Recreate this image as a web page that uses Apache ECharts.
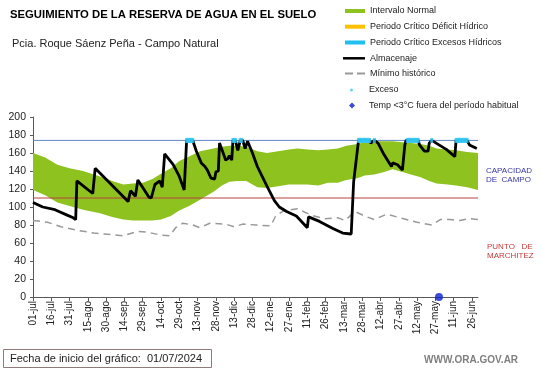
<!DOCTYPE html>
<html><head><meta charset="utf-8">
<script src="https://cdn.jsdelivr.net/npm/echarts@6/dist/echarts.min.js"></script>
<style>html,body{margin:0;padding:0;background:#fff}#c{width:541px;height:368px}</style>
</head><body><div id="c"></div>
<script>
// x = days since 01/07/2024
const tickLabels = ['01-jul','16-jul','31-jul','15-ago','30-ago','14-sep','29-sep','14-oct','29-oct','13-nov','28-nov','13-dic','28-dic','12-ene','27-ene','11-feb','26-feb','13-mar','28-mar','12-abr','27-abr','12-may','27-may','11-jun','26-jun'];

const bandDays = [0,10,20,30,41,55,65,74,82,90,98,105,113,120,128,137,148,155,161,168,175,184,192,201,210,217,225,234,242,250,257,266,272,280,288,295,303,310,318,325,331,340,347,356,365];
const bandHigh = [160,155,147,143,140,134,129,125,126,127,131,137,143,151,156,162,165,167,168,168,167,162,160,162,164,165,164,163,164,165,168,170,172,173,173,173,172,171,170,168,165,164,163,161,160];
const bandLow  = [119,113,105,101,97,93,89,86,85,85,85,86,90,96,101,108,117,124,128,129,129,122,121,123,125,125,125,124,127,127,130,132,135,136,139,142,139,136,133,129,126,125,124,122,119];

const minimoHistorico = [[0,85],[12,83],[23,78],[37,74],[50,71],[67,69],[74,68],[86,73],[94,72],[104,69],[112,68],[117,77],[123,82],[131,80],[137,77],[145,82],[158,81],[165,78],[172,81],[183,80],[195,79],[199,90],[206,96],[217,98],[228,91],[239,87],[250,88],[256,85],[264,95],[272,90],[280,86],[290,92],[304,87],[315,83],[327,80],[334,86],[342,86],[350,85],[358,87],[365,86]];

const almacenaje = [[0,105],[8,100],[18,97],[28,91],[33,88],[35,86],[36,129],[49,115],[51,143],[65,124],[78,106],[80,118],[84,112],[86,130],[95,111],[97,110],[100,125],[104,129],[106,122],[108,159],[115,147],[120,134],[124,119],[125,117],[126,174],[131,174],[134,162],[138,149],[141,145],[143,141],[146,132],[149,131],[150,139],[152,140],[153,171],[157,156],[158,152],[160,154],[161,157],[163,152],[164,174],[166,174],[168,163],[170,174],[172,174],[174,165],[176,173],[180,160],[184,145],[192,123],[198,107],[202,100],[208,95],[216,90],[225,77],[226,89],[235,84],[246,76],[254,71],[261,70],[262,69],[263,128],[264,130],[267,174],[276,174],[277,171],[280,174],[283,171],[288,158],[294,145],[295,149],[299,147],[303,141],[305,169],[306,174],[316,174],[317,169],[321,162],[324,162],[325,171],[327,174],[333,169],[339,164],[346,156],[347,174],[356,174],[358,169],[364,165]];

const excesoDays = [126,127,128,129,130,131,164,165,166,170,171,267,268,269,270,271,272,273,274,275,276,280,307,308,309,310,311,312,313,314,315,316,327,347,348,349,350,351,352,353,354,355,356];
const excesoLevel = 174;
const capacidadCampo = 174;
const puntoMarchitez = 110;
const tempBaja = [[333,0]];

const chart = echarts.init(document.getElementById('c'), null, {renderer:'canvas'});
const FF = 'Liberation Sans, Arial, sans-serif';
const legTxt = {fontSize:9, color:'#222', fontFamily:FF, lineHeight:10};
function leg(name, icon, center, left, w, h, pad) {
  const d = {name};
  if (icon) d.icon = icon;
  const ts = Object.assign({}, legTxt);
  if (pad) ts.padding = [0,0,0,pad];
  return {data:[d], top:center-5, left, itemWidth:w, itemHeight:h, padding:0, selectedMode:false, orient:'vertical', textStyle:ts};
}

const option = {
  animation:false,
  backgroundColor:'#fff',
  title:[
    {text:'SEGUIMIENTO DE LA RESERVA DE AGUA EN EL SUELO', left:10, top:9, padding:0, textStyle:{fontSize:11.3, fontWeight:'bold', color:'#000', fontFamily:FF}},
    {text:'Pcia. Roque Sáenz Peña - Campo Natural', left:12, top:38, padding:0, textStyle:{fontSize:11, fontWeight:'normal', color:'#222', fontFamily:FF}}
  ],
  legend:[
    leg('Intervalo Normal','rect',11,345,20,4),
    leg('Periodo Crítico Déficit Hídrico','rect',26.7,345,20,4),
    leg('Periodo Crítico Excesos Hídricos','rect',42.5,345,20,4),
    leg('Almacenaje','rect',58.3,343,22,2.5),
    leg('Mínimo histórico','path://M0,0h8v2h-8z M12,0h8v2h-8z',73.5,345,20,2),
    leg('Exceso','circle',90,350,3,3,11),
    leg('Temp <3°C fuera del período habitual','diamond',105.5,349,6,6,9)
  ],
  grid:{left:33, right:63, top:117, bottom:71, outerBoundsMode:'none'},
  xAxis:{type:'value', min:0, max:365, interval:15,
    axisLine:{show:true, lineStyle:{color:'#595959', width:1}},
    axisTick:{show:true, length:4, lineStyle:{color:'#595959'}},
    splitLine:{show:false},
    axisLabel:{rotate:90, fontSize:10, color:'#222', fontFamily:FF, margin:4, showMaxLabel:false,
      formatter:v => (v % 15 === 0 && tickLabels[v/15]) ? tickLabels[v/15] : ''}
  },
  yAxis:{type:'value', min:0, max:200, interval:20,
    name:'Milímetros', nameLocation:'middle', nameGap:26, nameRotate:90,
    nameTextStyle:{fontSize:7, color:'#222', fontFamily:FF},
    axisLine:{show:true, lineStyle:{color:'#595959', width:1}},
    axisTick:{show:true, length:3, lineStyle:{color:'#595959'}},
    splitLine:{show:false},
    axisLabel:{fontSize:10.5, color:'#222', fontFamily:FF, margin:7}
  },
  series:[
    {type:'custom', name:'Intervalo Normal', z:1, silent:true, itemStyle:{color:'#8DC21F'},
      data:[[0,0]],
      renderItem:(params, api) => {
        const pts = [];
        for (let i=0;i<bandDays.length;i++) pts.push(api.coord([bandDays[i], bandHigh[i]]));
        for (let i=bandDays.length-1;i>=0;i--) pts.push(api.coord([bandDays[i], bandLow[i]]));
        return {type:'polygon', shape:{points:pts}, style:{fill:'#8DC21F'}};
      }},
    {type:'line', name:'Periodo Crítico Déficit Hídrico', data:[], itemStyle:{color:'#FFC000'}, lineStyle:{color:'#FFC000'}},
    {type:'line', name:'Periodo Crítico Excesos Hídricos', data:[], itemStyle:{color:'#1FBFF0'}, lineStyle:{color:'#1FBFF0'}},
    {type:'line', name:'cc', z:3, silent:true, symbol:'none', data:[[0,capacidadCampo],[365,capacidadCampo]], lineStyle:{color:'#5F86C4', width:1}},
    {type:'line', name:'pm', z:3, silent:true, symbol:'none', data:[[0,puntoMarchitez],[365,puntoMarchitez]], lineStyle:{color:'#B8433E', width:1}},
    {type:'line', name:'Mínimo histórico', z:4, symbol:'none', data:minimoHistorico, itemStyle:{color:'#999'}, lineStyle:{color:'#999', width:1.5, type:[7,5]}},
    {type:'line', name:'Almacenaje', z:5, symbol:'none', data:almacenaje, itemStyle:{color:'#000'}, lineStyle:{color:'#000', width:2.8}},
    {type:'scatter', name:'Exceso', z:6, symbol:'rect', symbolSize:[3,5], data:excesoDays.map(d=>[d,excesoLevel]), itemStyle:{color:'#33C8F5'}},
    {type:'scatter', name:'Temp <3°C fuera del período habitual', z:7, clip:false, symbol:'circle', symbolSize:8, data:tempBaja, itemStyle:{color:'#0A1FD0'}}
  ],
  graphic:[
    {type:'text', left:486, top:166, style:{text:'CAPACIDAD\nDE  CAMPO', fontSize:8, lineHeight:9.5, fill:'#3636A8', fontFamily:FF}},
    {type:'text', left:487, top:242, style:{text:'PUNTO   DE\nMARCHITEZ', fontSize:8, lineHeight:9.5, fill:'#C63A3A', fontFamily:FF}},
    {type:'rect', shape:{x:3.5, y:349.5, width:208, height:18}, style:{fill:'#fff', stroke:'#8F7A7A', lineWidth:1}},
    {type:'text', x:10, y:358.5, style:{text:'Fecha de inicio del gráfico:  01/07/2024', fontSize:11, fill:'#222', fontFamily:FF, verticalAlign:'middle'}},
    {type:'text', x:424, y:360, style:{text:'WWW.ORA.GOV.AR', fontSize:10, fontWeight:'bold', fill:'#7F7F7F', fontFamily:FF, verticalAlign:'middle'}}
  ]
};
chart.setOption(option);
</script></body></html>
